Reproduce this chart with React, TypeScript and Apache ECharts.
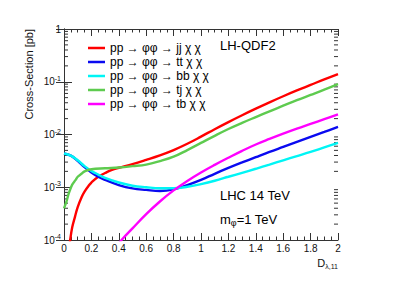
import React, { useEffect, useRef } from "react";
import * as echarts from "echarts";

const seriesNames = [
  "pp → φφ → jj χ χ",
  "pp → φφ → tt χ χ",
  "pp → φφ → bb χ χ",
  "pp → φφ → tj χ χ",
  "pp → φφ → tb χ χ",
];
const seriesColors = ["#ff0000", "#0a0af0", "#00f5f5", "#5ecb4f", "#ff00ff"];

const jjD = [0.035, 0.045, 0.06, 0.08, 0.1, 0.13, 0.15, 0.18, 0.2, 0.25, 0.3, 0.35, 0.4, 0.5, 0.6, 0.7, 0.8, 0.9, 1.0, 1.1, 1.2, 1.3, 1.4, 1.5, 1.6, 1.7, 1.8, 1.9, 2.0];
const jjXsec = [6.3e-5, 1.0e-4, 1.74e-4, 2.75e-4, 4.2e-4, 6.6e-4, 8.3e-4, 1.07e-3, 1.23e-3, 1.58e-3, 1.86e-3, 2.14e-3, 2.34e-3, 2.75e-3, 3.31e-3, 4.03e-3, 5.07e-3, 6.68e-3, 9.12e-3, 0.0126, 0.0172, 0.0232, 0.0309, 0.0407, 0.0531, 0.0684, 0.0871, 0.111, 0.140];

const ttD = [0, 0.05, 0.1, 0.15, 0.2, 0.25, 0.3, 0.4, 0.5, 0.6, 0.7, 0.8, 0.9, 1.0, 1.1, 1.2, 1.3, 1.4, 1.5, 1.6, 1.7, 1.8, 1.9, 2.0];
const ttXsec = [4.37e-3, 3.98e-3, 3.16e-3, 2.4e-3, 1.9e-3, 1.58e-3, 1.38e-3, 1.1e-3, 9.5e-4, 8.9e-4, 8.5e-4, 9.1e-4, 1.1e-3, 1.38e-3, 1.8e-3, 2.32e-3, 2.95e-3, 3.72e-3, 4.68e-3, 5.82e-3, 7.24e-3, 9.02e-3, 0.0112, 0.01396];

const bbD = [0, 0.05, 0.1, 0.15, 0.2, 0.25, 0.3, 0.4, 0.5, 0.6, 0.7, 0.8, 0.9, 1.0, 1.1, 1.2, 1.3, 1.4, 1.5, 1.6, 1.7, 1.8, 1.9, 2.0];
const bbXsec = [4.37e-3, 3.98e-3, 3.24e-3, 2.51e-3, 2.04e-3, 1.74e-3, 1.51e-3, 1.23e-3, 1.07e-3, 1.0e-3, 9.55e-4, 9.55e-4, 1.02e-3, 1.15e-3, 1.33e-3, 1.58e-3, 1.88e-3, 2.24e-3, 2.69e-3, 3.24e-3, 3.89e-3, 4.68e-3, 5.69e-3, 6.92e-3];

const tjD = [0, 0.02, 0.036, 0.06, 0.085, 0.1, 0.13, 0.15, 0.2, 0.3, 0.4, 0.5, 0.6, 0.7, 0.8, 0.9, 1.0, 1.1, 1.2, 1.3, 1.4, 1.5, 1.6, 1.7, 1.8, 1.9, 2.0];
const tjXsec = [3.98e-4, 5.6e-4, 7.8e-4, 1.12e-3, 1.38e-3, 1.58e-3, 1.82e-3, 2.0e-3, 2.19e-3, 2.29e-3, 2.37e-3, 2.51e-3, 2.69e-3, 3.13e-3, 3.8e-3, 5.07e-3, 6.92e-3, 9.44e-3, 0.0127, 0.0166, 0.0214, 0.0275, 0.0351, 0.0447, 0.0562, 0.0708, 0.0902];

const tbD = [0.4, 0.42, 0.5, 0.6, 0.7, 0.8, 0.9, 1.0, 1.1, 1.2, 1.3, 1.4, 1.5, 1.6, 1.7, 1.8, 1.9, 2.0];
const tbXsec = [8.5e-5, 1e-4, 1.66e-4, 3.09e-4, 5.37e-4, 8.71e-4, 1.32e-3, 1.91e-3, 2.66e-3, 3.63e-3, 4.9e-3, 6.46e-3, 8.22e-3, 0.01035, 0.01288, 0.01585, 0.0195, 0.024];

const xTickLabels = ["0", "0.2", "0.4", "0.6", "0.8", "1", "1.2", "1.4", "1.6", "1.8", "2"];

const seriesD = [jjD, ttD, bbD, tjD, tbD];
const seriesXsec = [jjXsec, ttXsec, bbXsec, tjXsec, tbXsec];

const minorLogTicks: number[] = [];
for (let k = -4; k <= -1; k++) {
  for (let m = 2; m <= 9; m++) minorLogTicks.push(m * Math.pow(10, k));
}

const FONT = "Liberation Sans, Arial, Helvetica, sans-serif";
const AX = "#333";

export default function App() {
  const ref = useRef<HTMLDivElement>(null);
  useEffect(() => {
    if (!ref.current) return;
    const chart = echarts.init(ref.current, null, { renderer: "svg" });
    const lines = seriesNames.map((name, i) => ({
      name,
      type: "line",
      smooth: 0.4,
      showSymbol: false,
      symbol: "none",
      clip: true,
      data: seriesD[i].map((d, j) => [d, seriesXsec[i][j]]),
      lineStyle: { color: seriesColors[i], width: 2.4 },
      itemStyle: { color: seriesColors[i] },
      z: 3,
    }));
    const yFmt = (v: number) => {
      const e = Math.round(Math.log10(v));
      if (e === 0) return "1";
      return "10{sup|" + e + "}";
    };
    const xAxisBase = {
      type: "value",
      min: 0,
      max: 2,
      interval: 0.2,
      axisLine: { lineStyle: { color: AX, width: 1 } },
      axisTick: { inside: true, length: 7, lineStyle: { color: AX } },
      minorTick: { show: true, splitNumber: 4, length: 3.5, lineStyle: { color: AX } },
      splitLine: { show: false },
    };
    const yAxisBase = {
      type: "log",
      min: 1e-4,
      max: 1,
      logBase: 10,
      axisLine: { lineStyle: { color: AX, width: 1 } },
      axisTick: { inside: true, length: 8, lineStyle: { color: AX } },
      splitLine: { show: false },
    };
    chart.setOption({
      animation: false,
      grid: { left: 64, top: 29, right: 61, bottom: 46 },
      legend: {
        data: seriesNames,
        orient: "vertical",
        left: 83,
        top: 36,
        icon: "rect",
        itemWidth: 17,
        itemHeight: 2.5,
        itemGap: 0,
        textStyle: { fontSize: 12, fontFamily: FONT, color: "#000", lineHeight: 14, padding: [0, 0, 0, 0] },
        selectedMode: false,
      },
      xAxis: [
        {
          ...xAxisBase,
          position: "bottom",
          axisLabel: {
            fontSize: 10,
            fontFamily: FONT,
            color: "#111",
            margin: 3,
            formatter: (v: number) => xTickLabels[Math.round(v / 0.2)] ?? "",
          },
        },
        { ...xAxisBase, position: "top", axisLabel: { show: false } },
      ],
      yAxis: [
        {
          ...yAxisBase,
          position: "left",
          axisLabel: {
            fontFamily: FONT,
            color: "#111",
            margin: 3,
            formatter: yFmt,
            rich: {
              sup: { fontSize: 7, fontFamily: FONT, color: "#111", padding: [0, 0, 7, 0] },
            },
            fontSize: 10,
          },
        },
        { ...yAxisBase, position: "right", axisLabel: { show: false } },
      ],
      series: [
        ...lines,
        {
          type: "custom",
          name: "",
          silent: true,
          xAxisIndex: 0,
          yAxisIndex: 0,
          clip: false,
          data: minorLogTicks.map((v) => [0, v]),
          renderItem: (_p: any, api: any) => {
            const v = api.value(1);
            const pl = api.coord([0, v]);
            const pr = api.coord([2, v]);
            return {
              type: "group",
              children: [
                { type: "line", shape: { x1: pl[0], y1: pl[1], x2: pl[0] + 4, y2: pl[1] }, style: { stroke: AX, lineWidth: 1 } },
                { type: "line", shape: { x1: pr[0] - 4, y1: pr[1], x2: pr[0], y2: pr[1] }, style: { stroke: AX, lineWidth: 1 } },
              ],
            };
          },
          z: 1,
        },
      ],
      graphic: [
        {
          type: "text",
          x: 29,
          y: 29,
          rotation: Math.PI / 2,
          style: { text: "Cross-Section [pb]", fontSize: 11, fontFamily: FONT, fill: "#111", align: "right", verticalAlign: "middle" },
        },
        {
          type: "text",
          x: 338,
          y: 263,
          style: {
            text: "D{sub|λ,11}",
            fontSize: 11,
            fontFamily: FONT,
            fill: "#111",
            align: "right",
            verticalAlign: "middle",
            rich: { sub: { fontSize: 7, fontFamily: FONT, fill: "#111", padding: [6, 0, 0, 0] } },
          },
        },
        {
          type: "text",
          x: 220,
          y: 45,
          style: { text: "LH-QDF2", fontSize: 13, fontFamily: FONT, fill: "#000", align: "left", verticalAlign: "middle" },
        },
        {
          type: "text",
          x: 220,
          y: 195,
          style: { text: "LHC 14 TeV", fontSize: 13, fontFamily: FONT, fill: "#000", align: "left", verticalAlign: "middle" },
        },
        {
          type: "text",
          x: 220,
          y: 219,
          style: {
            text: "m{sub|φ}=1 TeV",
            fontSize: 13,
            fontFamily: FONT,
            fill: "#000",
            align: "left",
            verticalAlign: "middle",
            rich: { sub: { fontSize: 9, fontFamily: FONT, fill: "#000", padding: [7, 0, 0, 0] } },
          },
        },
      ],
    });
    return () => chart.dispose();
  }, []);
  return <div ref={ref} style={{ position: "fixed", left: 0, top: 0, width: 399, height: 286, background: "#fff" }} />;
}
